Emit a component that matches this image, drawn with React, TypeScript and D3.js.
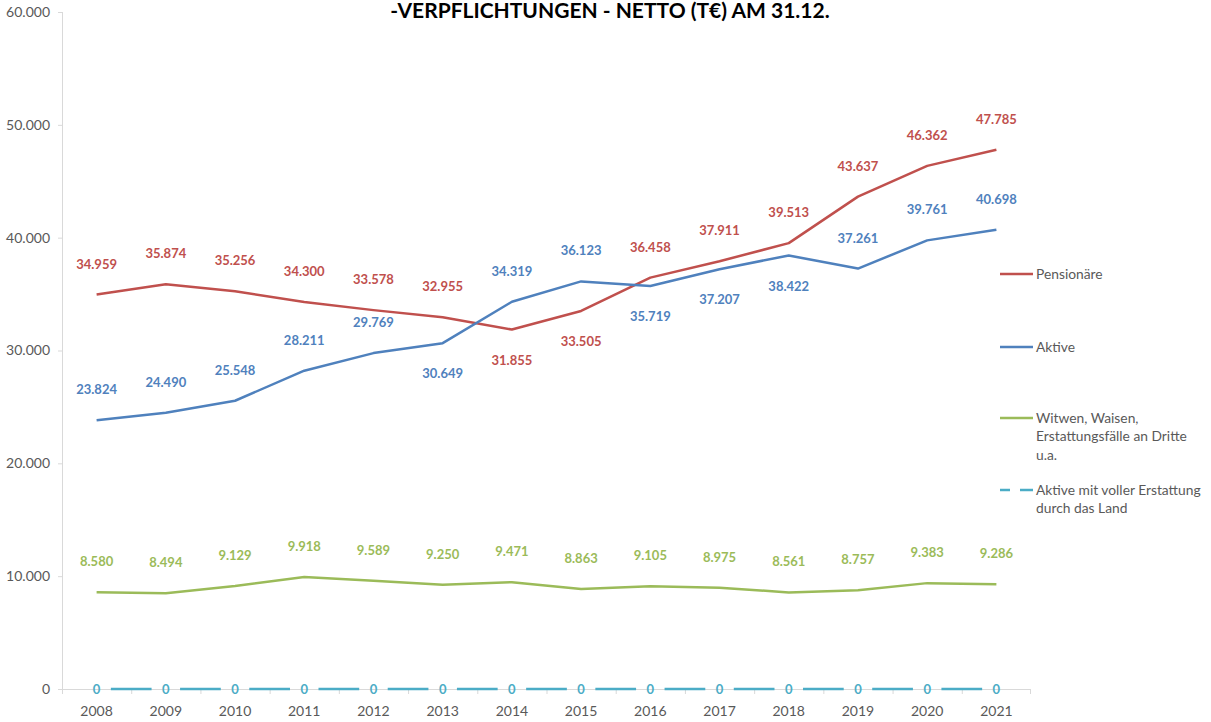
import React from "react";
import * as d3 from "d3";

const years = ["2008","2009","2010","2011","2012","2013","2014","2015","2016","2017","2018","2019","2020","2021"];
const pensionaere = [34959,35874,35256,34300,33578,32955,31855,33505,36458,37911,39513,43637,46362,47785];
const aktive = [23824,24490,25548,28211,29769,30649,34319,36123,35719,37207,38422,37261,39761,40698];
const witwen = [8580,8494,9129,9918,9589,9250,9471,8863,9105,8975,8561,8757,9383,9286];
const aktiveErstattung = [0,0,0,0,0,0,0,0,0,0,0,0,0,0];
// label placement: 1 above, -1 below
const pensLabelPos = [1,1,1,1,1,1,-1,-1,1,1,1,1,1,1];
const aktLabelPos = [1,1,1,1,1,-1,1,1,-1,-1,-1,1,1,1];
const witLabelPos = [1,1,1,1,1,1,1,1,1,1,1,1,1,1];
const yTicks = [0,10000,20000,30000,40000,50000,60000];
const title = "-VERPFLICHTUNGEN - NETTO (T€) AM 31.12.";

const W = 1211, H = 722;
const FONT = "Lato, 'Open Sans', sans-serif";
const fmt = (v: number) => {
  if (v === 0) return "0";
  return d3.format(",")(v).replace(/,/g, ".");
};

export default function App() {
  const x = d3.scaleBand<string>().domain(years).range([62, 1031]);
  const y = d3.scaleLinear().domain([0, 60000]).range([689, 12]);
  const cx = (yr: string) => (x(yr) as number) + x.bandwidth() / 2;
  const line = d3.line<number>().x((_, i) => cx(years[i])).y(d => y(d));

  const series = [
    { name: "Pensionäre", values: pensionaere, color: "#C0504D", pos: pensLabelPos },
    { name: "Aktive", values: aktive, color: "#4F81BD", pos: aktLabelPos },
    { name: "Witwen", values: witwen, color: "#9BBB59", pos: witLabelPos },
  ];
  const step = x.bandwidth();
  const gap = 28.5;
  const dash = step - gap;
  const cyan = "#4BACC6";

  const legend = [
    { lines: ["Pensionäre"], color: "#C0504D", y: 274, dashed: false },
    { lines: ["Aktive"], color: "#4F81BD", y: 347, dashed: false },
    { lines: ["Witwen, Waisen,", "Erstattungsfälle an Dritte", "u.a."], color: "#9BBB59", y: 418, dashed: false },
    { lines: ["Aktive mit voller Erstattung", "durch das Land"], color: cyan, y: 490, dashed: true },
  ];

  return (
    <svg width={W} height={H} style={{ position: "absolute", left: 0, top: 0, background: "#fff" }} fontFamily={FONT}>
      <rect x={0} y={0} width={W} height={H} fill="#fff" />
      <text x={610} y={18} textAnchor="middle" fontSize={21} fontWeight={700} fill="#000">{title}</text>
      {/* y axis */}
      <line x1={62.5} x2={62.5} y1={y(60000)} y2={y(0)} stroke="#d9d9d9" />
      {yTicks.map(t => (
        <g key={t}>
          <line x1={58} x2={62.5} y1={y(t) + 0.5} y2={y(t) + 0.5} stroke="#d9d9d9" />
          <text x={50} y={y(t)} dy="0.35em" textAnchor="end" fontSize={14} fill="#595959">{fmt(t)}</text>
        </g>
      ))}
      {/* x axis */}
      <line x1={62} x2={1031} y1={689.5} y2={689.5} stroke="#d9d9d9" />
      {years.map((yr) => (
        <line key={"t" + yr} x1={(x(yr) as number) + 0.5} x2={(x(yr) as number) + 0.5} y1={689} y2={694} stroke="#d9d9d9" />
      ))}
      <line x1={1030.5} x2={1030.5} y1={689} y2={694} stroke="#d9d9d9" />
      {years.map(yr => (
        <text key={"l" + yr} x={cx(yr)} y={711} dy="0.35em" textAnchor="middle" fontSize={14} fill="#595959">{yr}</text>
      ))}
      {/* series */}
      {series.map(s => (
        <path key={s.name} d={line(s.values) as string} fill="none" stroke={s.color} strokeWidth={2.5} strokeLinejoin="round" />
      ))}
      <path d={line(aktiveErstattung) as string} fill="none" stroke={cyan} strokeWidth={2.5}
        strokeDasharray={`${dash} ${gap}`} strokeDashoffset={dash + gap / 2} />
      {series.map(s => s.values.map((v, i) => (
        <text key={s.name + i} x={cx(years[i])} y={y(v) - s.pos[i] * 30.5} dy="0.35em" textAnchor="middle"
          fontSize={13} fontWeight={700} fill={s.color}>{fmt(v)}</text>
      )))}
      {aktiveErstattung.map((v, i) => (
        <text key={"z" + i} x={cx(years[i])} y={y(v)} dy="0.35em" textAnchor="middle" fontSize={13} fontWeight={700} fill={cyan}>{fmt(v)}</text>
      ))}
      {/* legend */}
      {legend.map(l => (
        <g key={l.lines[0]}>
          {l.dashed ? (
            <>
              <line x1={1000} x2={1010} y1={l.y} y2={l.y} stroke={l.color} strokeWidth={2.5} />
              <line x1={1020} x2={1033} y1={l.y} y2={l.y} stroke={l.color} strokeWidth={2.5} />
            </>
          ) : (
            <line x1={1000} x2={1033} y1={l.y} y2={l.y} stroke={l.color} strokeWidth={2.5} />
          )}
          {l.lines.map((t, k) => (
            <text key={k} x={1036} y={l.y + k * 18.5} dy="0.35em" fontSize={13.8} fill="#595959">{t}</text>
          ))}
        </g>
      ))}
    </svg>
  );
}
